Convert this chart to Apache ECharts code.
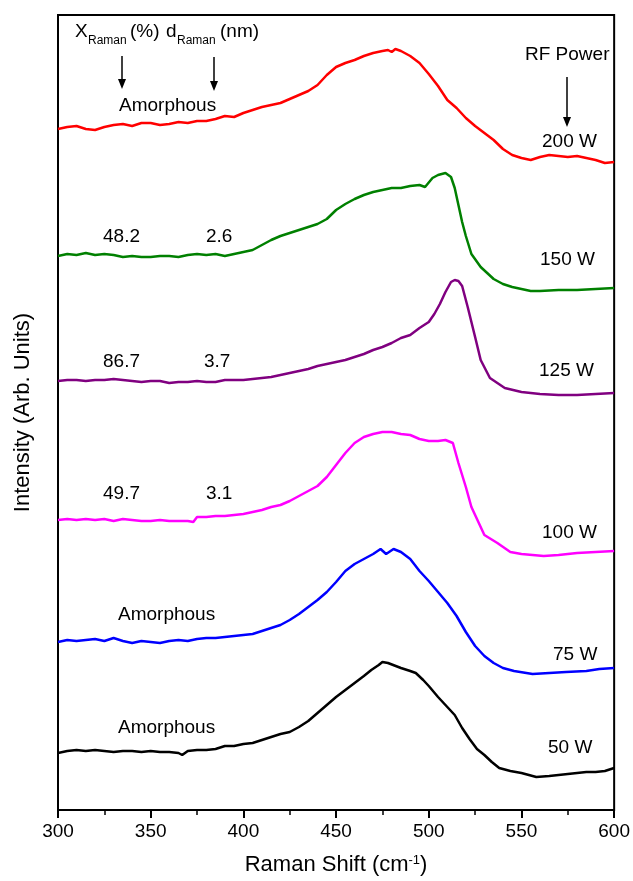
<!DOCTYPE html>
<html>
<head>
<meta charset="utf-8">
<script src="https://cdn.jsdelivr.net/npm/echarts@6/dist/echarts.min.js"></script>
<style>html,body{margin:0;padding:0;background:#fff}#c{width:633px;height:881px}</style>
</head>
<body>
<div id="c"></div>
<script>
// Raman shift (cm^-1) and relative intensity (arb. units, stacked offsets) per RF power
const x200 = [300,305,310,315,320,325,330,335,340,345,350,355,360,365,370,375,380,385,390,395,400,405,410,415,420,425,430,435,440,445,450,455,460,465,470,475,478,480,482,485,490,495,500,505,510,515,520,525,530,535,540,545,550,555,560,565,570,575,580,585,590,595,600];
const y200 = [681,683,684,681,680,683,685,686,684,687,687,685,686,688,687,689,689,691,694,693,697,700,703,705,707,711,715,719,725,735,743,747,750,754,757,759,760,758,761,759,754,747,736,724,710,702,692,684,677,670,661,655,652,650,653,655,654,653,654,652,650,647,648];

const x150 = [300,305,310,315,320,325,330,335,340,345,350,355,360,365,370,375,380,385,390,395,400,405,410,415,420,425,430,435,440,445,450,455,460,465,470,475,480,485,490,495,498,502,505,509,512,514,516,518,520,523,528,535,540,545,550,555,560,570,580,590,600];
const y150 = [554,556,555,557,555,556,555,553,554,553,553,554,554,553,555,556,555,556,554,556,558,560,565,570,574,577,580,583,586,591,600,606,611,615,618,620,622,622,624,625,623,632,635,637,633,622,605,588,574,556,543,531,526,523,521,519,519,520,520,521,522];

const x125 = [300,305,310,315,320,325,330,335,340,345,350,355,360,365,370,375,380,385,390,395,400,405,410,415,420,425,430,435,440,445,450,455,460,465,470,475,480,485,490,495,500,503,506,509,512,514,516,518,521,525,528,533,541,550,560,570,580,590,600];
const y125 = [429,430,430,429,430,430,431,430,429,428,429,429,427,428,428,429,428,428,430,430,430,431,432,433,435,437,439,441,444,446,448,450,453,456,460,463,467,472,475,482,488,496,506,518,528,530,529,524,503,473,450,432,422,418,416,415,415,416,417];

const x100 = [300,305,310,315,320,325,330,335,340,345,350,355,360,365,370,373,375,380,385,390,395,400,405,410,415,420,425,430,435,440,445,450,455,460,465,470,475,480,485,490,495,500,505,509,513,516,520,523,530,537,544,550,556,562,570,580,590,600];
const y100 = [290,291,290,291,290,291,289,291,290,289,289,290,289,289,289,288,293,293,294,294,295,296,298,300,303,305,309,314,319,324,333,345,357,367,373,376,378,378,376,375,371,369,369,370,367,347,323,303,275,267,258,256,255,254,255,257,258,259];

const x75 = [300,305,310,315,320,325,330,335,340,345,350,355,360,365,370,375,380,385,390,395,400,405,410,415,420,425,430,435,440,445,450,455,460,465,470,474,477,481,485,490,495,500,505,510,515,520,525,530,535,540,546,556,565,574,585,592,600];
const y75 = [168,170,169,170,171,169,172,169,167,169,168,167,169,170,169,171,172,172,173,174,175,176,179,182,185,190,196,203,210,218,228,239,246,251,256,261,256,261,258,251,239,229,218,207,194,178,164,154,147,142,139,136,137,138,139,141,142];

const x50 = [300,305,310,315,320,325,330,335,340,345,350,355,360,365,367,370,375,380,385,390,395,400,405,410,415,420,425,430,435,440,445,450,455,460,465,469,473,475,478,485,490,493,497,500,505,510,514,518,522,526,530,534,538,544,550,558,565,570,575,580,585,590,595,600];
const y50 = [57,59,60,59,60,59,58,59,59,58,59,58,58,57,55,59,60,60,61,64,64,66,67,70,73,76,78,83,89,97,105,113,120,127,134,140,145,148,147,142,139,137,130,124,113,103,95,82,71,61,55,48,42,39,37,33,34,35,36,37,38,38,39,42];

const seriesNames = ['200 W','150 W','125 W','100 W','75 W','50 W'];
const seriesX = [x200,x150,x125,x100,x75,x50];
const seriesY = [y200,y150,y125,y100,y75,y50];
const seriesColors = ['#ff0000','#008000','#800080','#ff00ff','#0000ff','#000000'];

const xTicks = [300,350,400,450,500,550,600];

const FONT = '"Liberation Sans", Arial, sans-serif';
const chart = echarts.init(document.getElementById('c'), null, {renderer:'canvas'});

function txt(text, x, y, size) {
  return {type:'text', x:x, y:y, z:100, style:{text:text, font: (size||19)+'px ' + FONT, fill:'#000', verticalAlign:'middle', align:'left'}};
}
function arrow(x, y1, y2) {
  return [
    {type:'line', z:100, shape:{x1:x, y1:y1, x2:x, y2:y2-8}, style:{stroke:'#000', lineWidth:1.5}},
    {type:'polygon', z:100, shape:{points:[[x-4,y2-10],[x+4,y2-10],[x,y2]]}, style:{fill:'#000'}}
  ];
}

const graphics = [
  txt('X',75,32), txt('Raman',88,41,12), txt('(%)',130,32),
  txt('d',166,32), txt('Raman',177,41,12), txt('(nm)',220,32),
  ...arrow(122,56,89), ...arrow(214,57,91), ...arrow(567,77,127),
  txt('Amorphous',119,106), txt('RF Power',525,55), txt('200 W',542,142),
  txt('48.2',103,237), txt('2.6',206,237), txt('150 W',540,260),
  txt('86.7',103,362), txt('3.7',204,362), txt('125 W',539,371),
  txt('49.7',103,494), txt('3.1',206,494), txt('100 W',542,533),
  txt('Amorphous',118,615), txt('75 W',553,655),
  txt('Amorphous',118,728), txt('50 W',548,748)
];

chart.setOption({
  animation:false,
  backgroundColor:'#fff',
  grid:{left:58, right:16, top:15, bottom:71, show:true, borderColor:'#000', borderWidth:2},
  xAxis:{
    type:'value', min:300, max:600, interval:50,
    axisLine:{show:true, onZero:false, lineStyle:{color:'#000', width:2}},
    axisTick:{show:true, inside:false, length:8, lineStyle:{color:'#000', width:2}},
    minorTick:{show:true, splitNumber:2, length:5, lineStyle:{color:'#000', width:1.5}},
    splitLine:{show:false},
    axisLabel:{fontSize:19, color:'#000', margin:12, fontFamily:FONT,
      formatter:function(v){ return xTicks.indexOf(v) >= 0 ? String(v) : ''; }},
    name:'Raman Shift (cm{sup|-1})', nameLocation:'middle', nameGap:44,
    nameTextStyle:{fontSize:22, color:'#000', fontFamily:FONT,
      rich:{sup:{fontSize:13, color:'#000', fontFamily:FONT, verticalAlign:'top'}}}
  },
  yAxis:{
    type:'value', min:0, max:795,
    axisLine:{show:true, lineStyle:{color:'#000', width:2}},
    axisTick:{show:false}, axisLabel:{show:false}, splitLine:{show:false},
    name:'Intensity (Arb. Units)', nameLocation:'middle', nameGap:24,
    nameTextStyle:{fontSize:22, color:'#000', fontFamily:FONT}
  },
  series: seriesNames.map(function(n,i){
    return {
      name:n, type:'line', showSymbol:false, symbol:'none',
      lineStyle:{color:seriesColors[i], width:2.5},
      itemStyle:{color:seriesColors[i]},
      data: seriesX[i].map(function(x,j){ return [x, seriesY[i][j]]; })
    };
  }),
  graphic: graphics
});
</script>
</body>
</html>
